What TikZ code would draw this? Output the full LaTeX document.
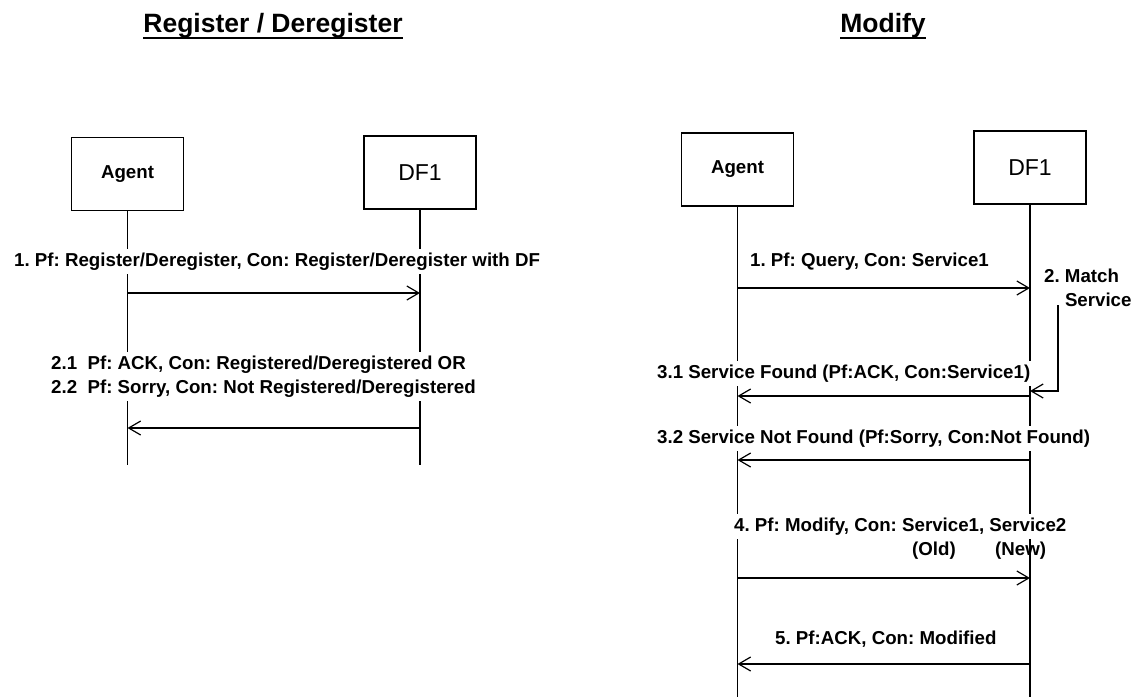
\documentclass[tikz,border=0pt]{standalone}
\usepackage{fontspec}
\setmainfont{Liberation Sans}
\usetikzlibrary{arrows.meta}
\frenchspacing
\begin{document}
\begin{tikzpicture}[x=1pt,y=-1pt,
  lifebox/.style={draw,line width=1.3pt,minimum width=112pt,minimum height=73pt,inner sep=0pt,
    font=\fontsize{18.7}{22}\selectfont\bfseries},
  dfbox/.style={lifebox,font=\fontsize{23}{26}\selectfont},
  lifeline/.style={line width=1.3pt},
  msg/.style={line width=1.2pt,-{Straight Barb[length=12pt,width=14pt,line width=1.2pt]}},
  msgtext/.style={font=\fontsize{18.7}{24}\selectfont\bfseries,inner xsep=2pt,inner ysep=4pt,
    fill=white,align=left},
  plaintext/.style={msgtext,fill=none},
  title/.style={font=\fontsize{26.5}{30}\selectfont\bfseries,inner sep=0pt},
  uline/.style={line width=2pt}
]
\fill[white] (0,0) rectangle (1141,697);
\useasboundingbox (0,0) rectangle (1141,697);

% ---------- headings ----------
\node[title,anchor=base] (t1) at (273,32) {Register / Deregister};
\draw[uline] ([yshift=-5.5pt]t1.base west) -- ([yshift=-5.5pt]t1.base east);
\node[title,anchor=base] (t2) at (883,32) {Modify};
\draw[uline] ([yshift=-5.5pt]t2.base west) -- ([yshift=-5.5pt]t2.base east);

% ---------- participants ----------
\node[lifebox] (la) at (127.5,174) {Agent};
\node[dfbox]   (ld) at (420,172.5) {DF1};
\node[lifebox] (ra) at (737.5,169.5) {Agent};
\node[dfbox]   (rd) at (1030,167.5) {DF1};

\coordinate (laEnd) at (127.5,465);
\coordinate (ldEnd) at (420,465);
\coordinate (raEnd) at (737.5,697);
\coordinate (rdEnd) at (1030,697);

\draw[lifeline] (la.south) -- (laEnd);
\draw[lifeline] (ld.south) -- (ldEnd);
\draw[lifeline] (ra.south) -- (raEnd);
\draw[lifeline] (rd.south) -- (rdEnd);

% ---------- message rows ----------
\coordinate (m1) at (0,293);
\coordinate (m2) at (0,428);
\coordinate (n1) at (0,288);
\coordinate (n2) at (0,391);
\coordinate (n3) at (0,396);
\coordinate (n4) at (0,460);
\coordinate (n5) at (0,578);
\coordinate (n6) at (0,664);
\coordinate (loopTop) at (1058,305);

% register / deregister
\draw[msg] (la |- m1) -- (ld |- m1);
\draw[msg] (ld |- m2) -- (la |- m2);

% modify
\draw[msg] (ra |- n1) -- (rd |- n1);
\draw[msg] (loopTop) |- (rd |- n2);
\draw[msg] (rd |- n3) -- (ra |- n3);
\draw[msg] (rd |- n4) -- (ra |- n4);
\draw[msg] (ra |- n5) -- (rd |- n5);
\draw[msg] (rd |- n6) -- (ra |- n6);

% ---------- labels ----------
\node[msgtext,anchor=base west] (l1) at (12,266.5)
  {1. Pf: Register/Deregister, Con: Register/Deregister with DF};
\node[msgtext,anchor=west] (l2) at (49,376.6)
  {2.1\ \ Pf: ACK, Con: Registered/Deregistered OR\\
   2.2\ \ Pf: Sorry, Con: Not Registered/Deregistered};

\node[plaintext,anchor=base west] (q1) at (748,266.5) {1. Pf: Query, Con: Service1};
\node[plaintext,anchor=west] (q2) at (1042,288.2) {2.~Match\\\hphantom{2.~}Service};
\node[msgtext,anchor=base west] (q3) at (655,378.5) {3.1 Service Found (Pf:ACK, Con:Service1)};
\node[msgtext,anchor=base west] (q4) at (655,443.5) {3.2 Service Not Found (Pf:Sorry, Con:Not Found)};
\node[msgtext,anchor=base west] (q5) at (732,531.5) {4. Pf: Modify, Con: Service1, Service2};
\node[plaintext,anchor=base west] (q6) at (910,555.5) {(Old)};
\node[plaintext,anchor=base west] (q7) at (993,555.5) {(New)};
\node[plaintext,anchor=base west] (q8) at (773,644.5) {5. Pf:ACK, Con: Modified};
\end{tikzpicture}
\end{document}
